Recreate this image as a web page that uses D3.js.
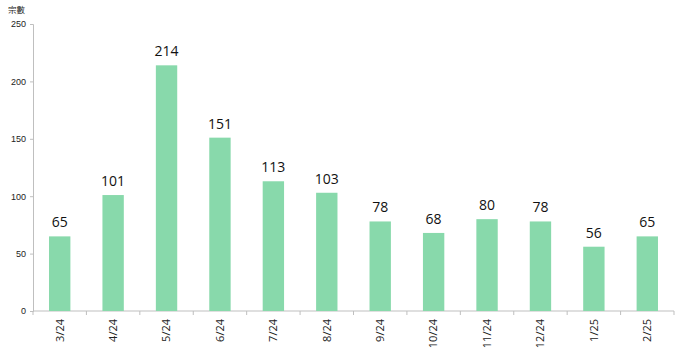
<!DOCTYPE html>
<html>
<head>
<meta charset="utf-8">
<script src="https://cdn.jsdelivr.net/npm/d3@7"></script>
<style>
  body { margin: 0; background: #fff; }
  svg { display: block; font-family: "Open Sans", "Noto Sans CJK TC", sans-serif; }
</style>
</head>
<body>
<div id="chart"></div>
<script>
// Monthly counts
const months = ["3/24", "4/24", "5/24", "6/24", "7/24", "8/24", "9/24", "10/24", "11/24", "12/24", "1/25", "2/25"];
const counts = [65, 101, 214, 151, 113, 103, 78, 68, 80, 78, 56, 65];
const yTicks = [0, 50, 100, 150, 200, 250];
const yTitle = "宗數";

const width = 680, height = 351;
const margin = { left: 33, right: 6, top: 24, bottom: 40 };

const svg = d3.select("#chart").append("svg")
    .attr("width", width)
    .attr("height", height);

const x = d3.scaleBand()
    .domain(months)
    .range([margin.left, width - margin.right])
    .paddingInner(0.6)
    .paddingOuter(0.3);

const y = d3.scaleLinear()
    .domain([0, 250])
    .range([height - margin.bottom, margin.top]);

const axisColor = "#bfbfbf";

// y axis
const yAxis = svg.append("g")
    .attr("transform", `translate(${margin.left},0)`)
    .call(d3.axisLeft(y).tickValues(yTicks).tickSize(3).tickPadding(4));
yAxis.select(".domain").attr("stroke", axisColor);
yAxis.selectAll(".tick line").attr("stroke", axisColor);
yAxis.selectAll(".tick text")
    .attr("font-size", "9px")
    .attr("fill", "#222");

svg.append("text")
    .attr("x", 8)
    .attr("y", 13)
    .attr("font-size", "8.5px")
    .attr("fill", "#222")
    .text(yTitle);

// x axis: line plus ticks at band boundaries
const baseY = y(0);
const x0 = margin.left, x1 = width - margin.right;
svg.append("line")
    .attr("x1", x0).attr("x2", x1)
    .attr("y1", baseY).attr("y2", baseY)
    .attr("stroke", axisColor);

const bounds = d3.range(months.length + 1).map(i => x0 + (x1 - x0) * i / months.length);
svg.selectAll(".xtick")
    .data(bounds)
    .enter()
    .append("line")
    .attr("class", "xtick")
    .attr("x1", d => d).attr("x2", d => d)
    .attr("y1", baseY).attr("y2", baseY + 4)
    .attr("stroke", axisColor);

// bars
svg.selectAll("rect.bar")
    .data(months)
    .enter()
    .append("rect")
    .attr("class", "bar")
    .attr("x", d => x(d))
    .attr("y", (d, i) => y(counts[i]))
    .attr("width", x.bandwidth())
    .attr("height", (d, i) => baseY - y(counts[i]))
    .attr("fill", "#88d9ab");

// value labels
svg.selectAll("text.val")
    .data(months)
    .enter()
    .append("text")
    .attr("class", "val")
    .attr("x", d => x(d) + x.bandwidth() / 2)
    .attr("y", (d, i) => y(counts[i]) - 9)
    .attr("text-anchor", "middle")
    .attr("font-size", "14px")
    .attr("fill", "#111")
    .text((d, i) => counts[i]);

// rotated month labels
svg.selectAll("text.month")
    .data(months)
    .enter()
    .append("text")
    .attr("class", "month")
    .attr("transform", d => `translate(${x(d) + x.bandwidth() / 2},${baseY + 8}) rotate(-90)`)
    .attr("text-anchor", "end")
    .attr("dy", "0.35em")
    .attr("font-size", "11px")
    .attr("fill", "#222")
    .text(d => d);
</script>
</body>
</html>
